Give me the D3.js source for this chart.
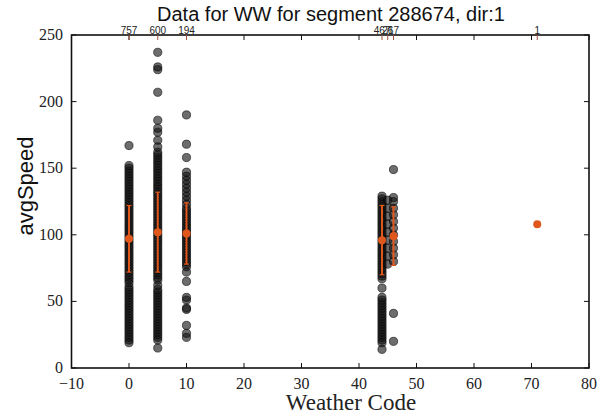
<!DOCTYPE html>
<html>
<head>
<meta charset="utf-8">
<script src="https://cdn.jsdelivr.net/npm/d3@7"></script>
<style>
  body { margin: 0; background: #fff; }
  svg { display: block; }
</style>
</head>
<body>
<div id="chart"></div>
<script>
// weather codes and the number of records for each
const codes = [0, 5, 10, 44, 45, 46, 71];
const counts = [757, 600, 194, 467, 26, 17, 1];

// avgSpeed values, per weather code
const speeds0 = [19, 21, 23, 25, 27, 29, 31, 33, 35, 37, 39, 41, 43, 45, 47, 49, 51, 53, 55, 57, 59, 61, 64, 66, 68, 70, 72, 74, 76, 78, 80, 82, 84, 86, 88, 90, 92, 94, 96, 98, 100, 102, 104, 106, 108, 110, 112, 114, 116, 118, 120, 122, 124, 126, 128, 130, 132, 134, 136, 138, 140, 142, 144, 146, 148, 150, 152, 167];
const speeds5 = [15, 21, 23, 25, 27, 29, 31, 33, 35, 37, 39, 41, 43, 45, 47, 49, 51, 53, 55, 57, 59, 62, 66, 68, 70, 72, 74, 76, 78, 80, 82, 84, 86, 88, 90, 92, 94, 96, 98, 100, 102, 104, 106, 108, 110, 112, 114, 116, 118, 120, 122, 124, 126, 128, 130, 132, 134, 136, 138, 140, 142, 144, 146, 148, 150, 152, 154, 156, 158, 160, 162, 166, 171, 177, 180, 186, 207, 224, 226, 237];
const speeds10 = [23, 26, 32, 44, 45, 51, 53, 65, 72, 76, 78, 80, 82, 84, 86, 88, 90, 92, 94, 96, 98, 100, 102, 104, 106, 108, 110, 112, 114, 116, 118, 120, 123, 126, 129, 132, 135, 138, 141, 144, 147, 158, 168, 190];
const speeds44 = [14, 19, 21, 23, 25, 27, 29, 31, 33, 35, 37, 39, 41, 43, 45, 47, 49, 51, 53, 60, 67, 69, 71, 73, 75, 77, 79, 81, 83, 85, 87, 89, 91, 93, 95, 97, 99, 101, 103, 105, 107, 109, 111, 113, 115, 117, 119, 121, 123, 125, 127, 129];
const speeds45 = [78, 84, 90, 96, 102, 108, 114, 120, 126];
const speeds46 = [20, 41, 80, 85, 90, 95, 100, 105, 110, 115, 120, 125, 128, 149];
const speeds71 = [108];
const allSpeeds = [speeds0, speeds5, speeds10, speeds44, speeds45, speeds46, speeds71];

// mean and standard deviation per code (error bars)
const barCodes = [0, 5, 10, 44, 46, 71];
const means = [97, 102, 101, 96, 99, 108];
const sds = [25, 30, 23, 26, 22, 0];

const xTicks = [-10, 0, 10, 20, 30, 40, 50, 60, 70, 80];
const yTicks = [0, 50, 100, 150, 200, 250];

const W = 598, H = 415;
const plotL = 71.5, plotR = 589, plotT = 35, plotB = 368;

const svg = d3.select("#chart").append("svg")
  .attr("width", W)
  .attr("height", H);

const x = d3.scaleLinear().domain([-10, 80]).range([plotL, plotR]);
const y = d3.scaleLinear().domain([0, 250]).range([plotB, plotT]);

// scatter points
const pts = [];
codes.forEach((c, i) => {
  if (c === 71) return;
  allSpeeds[i].forEach(v => pts.push({ code: c, speed: v }));
});

svg.append("g")
  .selectAll("circle")
  .data(pts)
  .enter()
  .append("circle")
  .attr("cx", d => x(d.code))
  .attr("cy", d => y(d.speed))
  .attr("r", 4.1)
  .attr("fill", "#141414")
  .attr("fill-opacity", 0.62)
  .attr("stroke", "#000")
  .attr("stroke-opacity", 0.7)
  .attr("stroke-width", 0.8);

// error bars
const orange = "#e0571c";
const bars = svg.append("g");
barCodes.forEach((c, i) => {
  const cx = x(c);
  if (sds[i] > 0) {
    bars.append("line")
      .attr("x1", cx).attr("x2", cx)
      .attr("y1", y(means[i] - sds[i])).attr("y2", y(means[i] + sds[i]))
      .attr("stroke", orange).attr("stroke-width", 2);
    [means[i] - sds[i], means[i] + sds[i]].forEach(v => {
      bars.append("line")
        .attr("x1", cx - 2.5).attr("x2", cx + 2.5)
        .attr("y1", y(v)).attr("y2", y(v))
        .attr("stroke", orange).attr("stroke-width", 1.2);
    });
  }
  bars.append("circle")
    .attr("cx", cx)
    .attr("cy", y(means[i]))
    .attr("r", 4)
    .attr("fill", orange);
});

// frame
svg.append("rect")
  .attr("x", plotL).attr("y", plotT)
  .attr("width", plotR - plotL).attr("height", plotB - plotT)
  .attr("fill", "none")
  .attr("stroke", "#111")
  .attr("stroke-width", 1.6);

// inward ticks
const tk = svg.append("g").attr("stroke", "#111").attr("stroke-width", 1);
xTicks.forEach(t => {
  tk.append("line").attr("x1", x(t)).attr("x2", x(t)).attr("y1", plotB).attr("y2", plotB - 5);
  tk.append("line").attr("x1", x(t)).attr("x2", x(t)).attr("y1", plotT).attr("y2", plotT + 5);
});
yTicks.forEach(t => {
  tk.append("line").attr("x1", plotL).attr("x2", plotL + 5).attr("y1", y(t)).attr("y2", y(t));
  tk.append("line").attr("x1", plotR).attr("x2", plotR - 5).attr("y1", y(t)).attr("y2", y(t));
});
codes.forEach(c => {
  tk.append("line").attr("x1", x(c)).attr("x2", x(c)).attr("y1", plotT).attr("y2", plotT + 5)
    .attr("stroke", "#a05040");
});

// tick labels
svg.append("g")
  .selectAll("text")
  .data(xTicks)
  .enter()
  .append("text")
  .attr("x", d => x(d))
  .attr("y", 389)
  .attr("text-anchor", "middle")
  .style("font-family", "'Liberation Serif', 'DejaVu Serif', serif")
  .style("font-size", "16px")
  .attr("fill", "#222")
  .text(d => d < 0 ? "\u2212" + Math.abs(d) : d);

svg.append("g")
  .selectAll("text")
  .data(yTicks)
  .enter()
  .append("text")
  .attr("x", 63)
  .attr("y", d => y(d) + 5)
  .attr("text-anchor", "end")
  .style("font-family", "'Liberation Serif', 'DejaVu Serif', serif")
  .style("font-size", "16px")
  .attr("fill", "#222")
  .text(d => d);

// counts along the top (the three near 45 overlap, as in the source figure)
svg.append("g")
  .selectAll("text")
  .data(codes)
  .enter()
  .append("text")
  .attr("x", d => x(d))
  .attr("y", 34)
  .attr("text-anchor", "middle")
  .style("font-family", "'Liberation Sans', Arial, sans-serif")
  .style("font-size", "10px")
  .attr("fill", "#222")
  .text((d, i) => counts[i]);

// title and axis labels
svg.append("text")
  .attr("x", 331)
  .attr("y", 21)
  .attr("text-anchor", "middle")
  .style("font-family", "'Liberation Sans', Arial, sans-serif")
  .style("font-size", "20px")
  .attr("fill", "#111")
  .text("Data for WW for segment 288674, dir:1");

svg.append("text")
  .attr("x", 351)
  .attr("y", 410)
  .attr("text-anchor", "middle")
  .style("font-family", "'Liberation Serif', 'DejaVu Serif', serif")
  .style("font-size", "23px")
  .attr("fill", "#222")
  .text("Weather Code");

svg.append("text")
  .attr("transform", "translate(33, 186) rotate(-90)")
  .attr("text-anchor", "middle")
  .style("font-family", "'Liberation Sans', Arial, sans-serif")
  .style("font-size", "22px")
  .attr("fill", "#111")
  .text("avgSpeed");
</script>
</body>
</html>
